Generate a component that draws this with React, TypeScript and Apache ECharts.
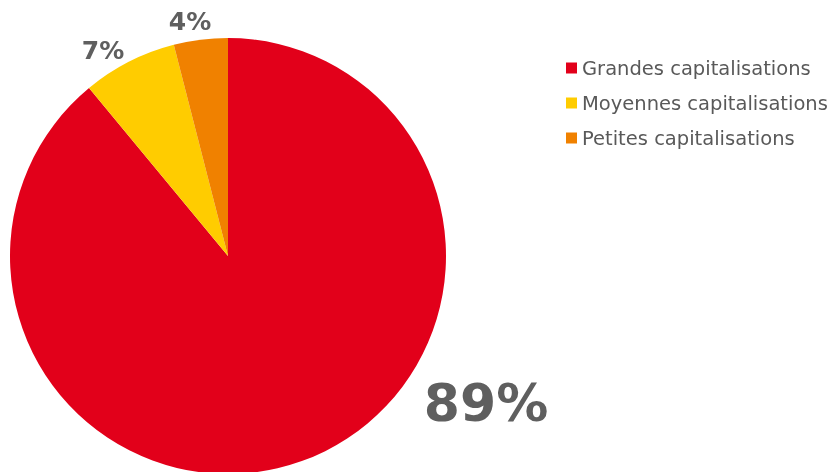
import React, { useEffect, useRef } from "react";
import * as echarts from "echarts";

const categories = ["Grandes capitalisations", "Moyennes capitalisations", "Petites capitalisations"];
const values = [89, 7, 4];
const colors = ["#E2001A", "#FFCC00", "#F08100"];
const labelTexts = values.map((v) => `${v}%`);

export default function App() {
  const ref = useRef<HTMLDivElement>(null);
  useEffect(() => {
    if (!ref.current) return;
    const chart = echarts.init(ref.current, null, { renderer: "svg" });
    const font = "'DejaVu Sans', Verdana, sans-serif";
    const labelPos = [
      { x: 486, y: 403, size: 52 },
      { x: 103, y: 50, size: 25 },
      { x: 190, y: 21, size: 25 },
    ];
    chart.setOption({
      animation: false,
      legend: {
        orient: "vertical",
        left: 561,
        top: 53,
        itemWidth: 11,
        itemHeight: 11,
        itemGap: 15,
        icon: "rect",
        data: categories,
        textStyle: { color: "#595959", fontSize: 19.5, fontFamily: font },
      },
      series: [
        {
          type: "pie",
          center: [228, 256],
          radius: 218,
          startAngle: 90,
          clockwise: true,
          label: { show: false },
          labelLine: { show: false },
          emphasis: { disabled: true },
          data: categories.map((c, i) => ({ name: c, value: values[i], itemStyle: { color: colors[i] } })),
        },
      ],
      graphic: labelTexts.map((t, i) => ({
        type: "text",
        x: labelPos[i].x,
        y: labelPos[i].y,
        style: {
          text: t,
          fill: "#5F5F5F",
          font: `bold ${labelPos[i].size}px ${font}`,
          textAlign: "center",
          textVerticalAlign: "middle",
        },
      })),
    });
    return () => chart.dispose();
  }, []);
  return <div ref={ref} style={{ position: "fixed", left: 0, top: 0, width: 829, height: 472 }} />;
}
